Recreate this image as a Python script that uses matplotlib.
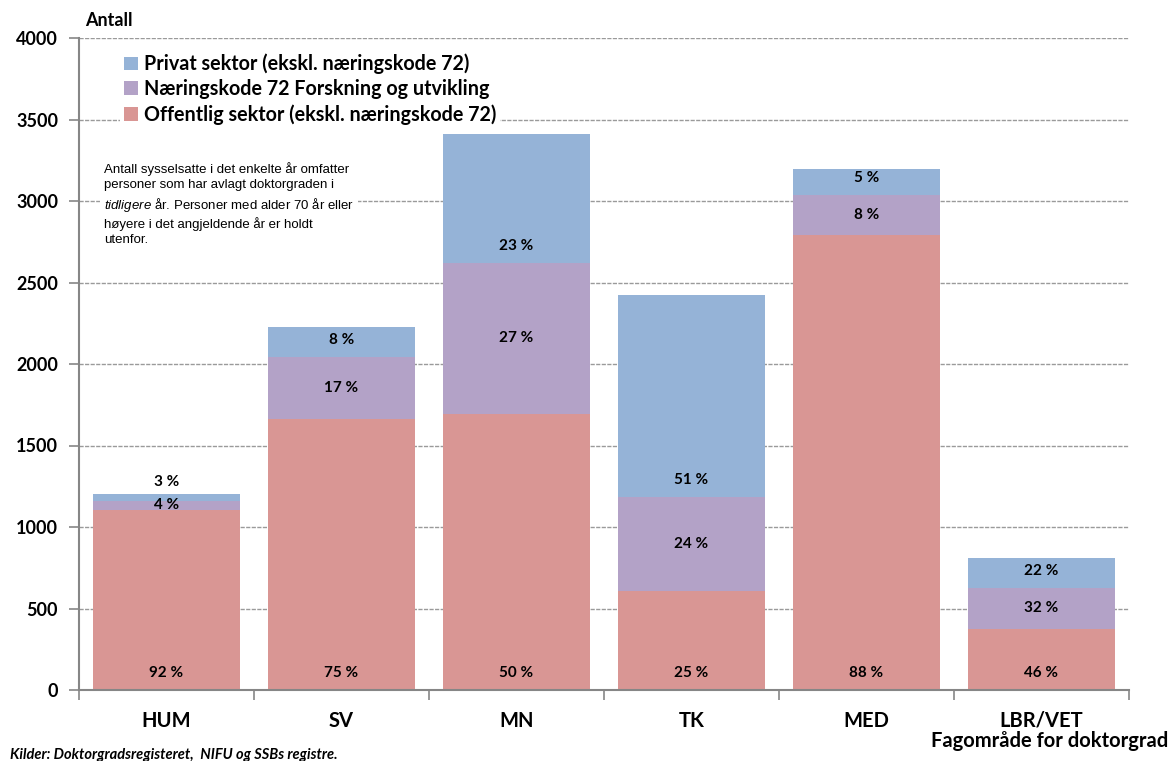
import matplotlib.pyplot as plt
import numpy as np

plt.rcParams['mathtext.fontset'] = 'custom'
plt.rcParams['mathtext.it'] = 'Liberation Sans:italic'
plt.rcParams['mathtext.rm'] = 'Liberation Sans'

# data
categories = ['HUM', 'SV', 'MN', 'TK', 'MED', 'LBR/VET']
offentlig = [1104, 1663, 1693, 607, 2791, 374]
naering72 = [56, 380, 927, 577, 246, 252]
privat = [42, 184, 791, 1239, 159, 184]
pct_off = ['92 %', '75 %', '50 %', '25 %', '88 %', '46 %']
pct_nk = ['4 %', '17 %', '27 %', '24 %', '8 %', '32 %']
pct_priv = ['3 %', '8 %', '23 %', '51 %', '5 %', '22 %']

c_off = '#D99694'
c_nk = '#B3A2C7'
c_priv = '#95B3D7'
grey = '#868686'
bold_font = ['Lato', 'DejaVu Sans']

fig = plt.figure(figsize=(11.71, 7.61), dpi=100)
ax = fig.add_axes([79 / 1171, 71 / 761, 1050 / 1171, 652 / 761])

x = np.arange(len(categories))
w = 0.84
off = np.array(offentlig)
nk = np.array(naering72)
pr = np.array(privat)
ax.bar(x, off, w, color=c_off, zorder=2, label='Offentlig sektor (ekskl. næringskode 72)')
ax.bar(x, nk, w, bottom=off, color=c_nk, zorder=2, label='Næringskode 72 Forskning og utvikling')
ax.bar(x, pr, w, bottom=off + nk, color=c_priv, zorder=2, label='Privat sektor (ekskl. næringskode 72)')

lab = dict(ha='center', va='center', fontsize=11, fontweight='bold', family=bold_font, zorder=4)
for i in range(len(categories)):
    ax.text(x[i], 104, pct_off[i], **lab)
    ax.text(x[i], off[i] + nk[i] / 2, pct_nk[i], **lab)
    top = off[i] + nk[i]
    if pr[i] < 100:
        ax.text(x[i], top + pr[i] + 75, pct_priv[i], **lab)
    else:
        ax.text(x[i], top + 104, pct_priv[i], **lab)

ax.set_xlim(-0.5, len(categories) - 0.5)
ax.set_ylim(0, 4000)
ax.set_yticks(np.arange(0, 4001, 500))
ax.yaxis.grid(True, color='#9a9a9a', linestyle=(0, (3, 1)), linewidth=1, zorder=0)
ax.set_axisbelow(True)
for s in ['top', 'right']:
    ax.spines[s].set_visible(False)
for s in ['left', 'bottom']:
    ax.spines[s].set_color(grey)
    ax.spines[s].set_linewidth(1.5)
ax.tick_params(axis='y', color=grey, length=7, width=1.2, pad=8)
ax.set_xticks(x)
ax.set_xticklabels(categories)
ax.set_xticks(np.arange(-0.5, len(categories)), minor=True)
ax.tick_params(axis='x', which='major', length=0, pad=15)
ax.tick_params(axis='x', which='minor', color=grey, length=7, width=1.2)
for t in ax.get_yticklabels():
    t.set_family(bold_font)
    t.set_fontweight('bold')
    t.set_fontsize(13)
for t in ax.get_xticklabels():
    t.set_family(bold_font)
    t.set_fontweight('bold')
    t.set_fontsize(14.5)

h, l = ax.get_legend_handles_labels()
leg = ax.legend(h[::-1], l[::-1], loc='upper left', bbox_to_anchor=(0.03, 0.997),
                frameon=True, framealpha=1, edgecolor='none', fancybox=False,
                handlelength=0.7, handleheight=0.7, handletextpad=0.3, labelspacing=0.25,
                borderpad=0.2, prop={'family': bold_font, 'weight': 'bold', 'size': 14.2})
leg.set_zorder(5)

note = ("Antall sysselsatte i det enkelte år omfatter\n"
        "personer som har avlagt doktorgraden i\n"
        "$\\it{tidligere}$ år. Personer med alder 70 år eller\n"
        "høyere i det angjeldende år er holdt\n"
        "utenfor.")
ax.text(0.024, 0.81, note, transform=ax.transAxes, va='top', ha='left',
        fontsize=9.5, family='Liberation Sans', linespacing=1.35, zorder=5,
        bbox=dict(facecolor='white', edgecolor='none', pad=3))

fig.text(85 / 1171, 1 - 20 / 761, 'Antall', fontsize=13, fontweight='bold',
         family=bold_font, va='center', ha='left')
fig.text(1168 / 1171, 1 - 741 / 761, 'Fagområde for doktorgrad', fontsize=14.5,
         fontweight='bold', family=bold_font, va='center', ha='right')
fig.text(10 / 1171, 1 - 755 / 761, 'Kilder: Doktorgradsregisteret,  NIFU og SSBs registre.',
         fontsize=10.5, fontweight='bold', style='italic', family=bold_font, va='center', ha='left')

fig.savefig('out.png', dpi=100)
